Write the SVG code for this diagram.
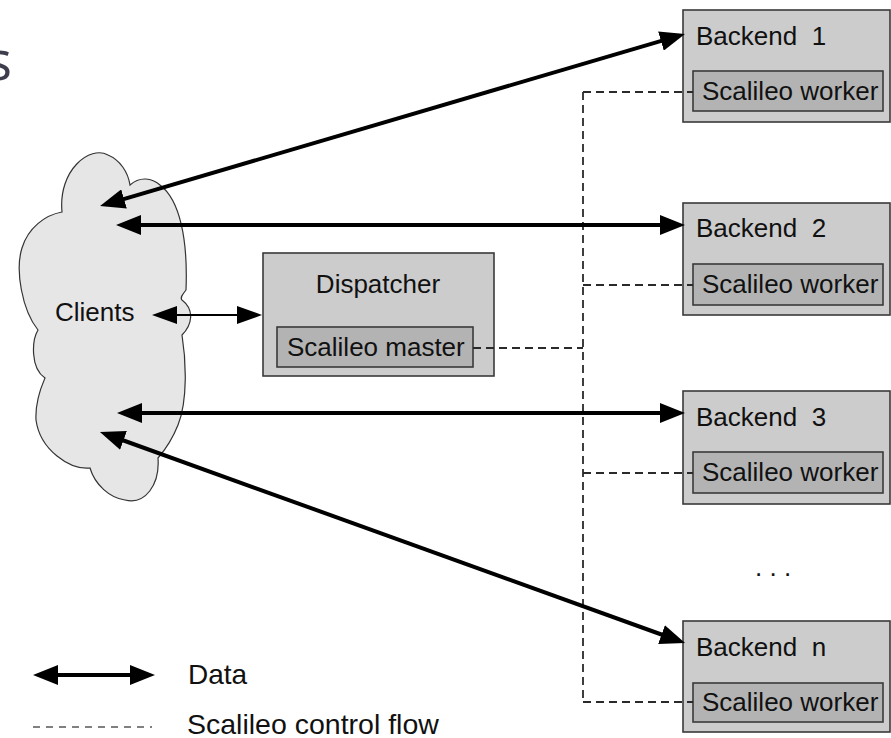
<svg xmlns="http://www.w3.org/2000/svg" width="891" height="738" viewBox="0 0 891 738">
<style>
text{font-family:"Liberation Sans",Arial,sans-serif;font-size:26px;fill:#111;white-space:pre}
.outer{fill:#cccccc;stroke:#3a3a3a;stroke-width:1.6}
.inner{fill:#b3b3b3;stroke:#3a3a3a;stroke-width:1.6}
.thick{stroke:#000;stroke-width:4;fill:none}
.thin{stroke:#000;stroke-width:2;fill:none}
.dash{stroke:#2a2a2a;stroke-width:1.8;stroke-dasharray:8 5;fill:none}
</style>
<defs>
<marker id="ah" viewBox="0 0 25 20" refX="19" refY="10" markerWidth="25" markerHeight="20" markerUnits="userSpaceOnUse" orient="auto-start-reverse"><path d="M0,0 L25,10 L0,20 z" fill="#000"/></marker>
<marker id="ahs" viewBox="0 0 25 18" refX="20" refY="9" markerWidth="25" markerHeight="18" markerUnits="userSpaceOnUse" orient="auto-start-reverse"><path d="M0,0 L25,9 L0,18 z" fill="#000"/></marker>
</defs>
<text x="12" y="80" text-anchor="end" style="font-family:'Open Sans',sans-serif;font-size:54px;fill:#3d3d4d">s</text>
<g id="clients">
<path d="M62,212 C58,170 90,145 108,155 C120,160 128,172 130,185 C140,176 152,178 160,185 C180,200 188,240 186,290 C182,295 180,298 182,300 C195,310 192,325 182,335 C186,360 188,400 178,425 C172,440 165,450 158,458 C160,485 145,505 125,500 C110,498 95,485 90,468 C70,470 40,450 36,420 C35,400 42,385 45,378 C30,368 32,340 38,330 C22,310 15,270 22,248 C28,228 45,215 62,212 Z" fill="#e6e6e6" stroke="#333" stroke-width="1.2"/>
<text x="55" y="321">Clients</text>
</g>
<g id="dispatcher">
<rect class="outer" x="263" y="253" width="231" height="123"/>
<text x="378" y="293" text-anchor="middle">Dispatcher</text>
<rect class="inner" x="277" y="327" width="196" height="40"/>
<text x="287" y="356">Scalileo master</text>
</g>
<g id="backend1">
<rect class="outer" x="683" y="10" width="207" height="112"/>
<text x="696" y="45">Backend  1</text>
<rect class="inner" x="693" y="71" width="190" height="40"/>
<text x="702" y="100">Scalileo worker</text>
</g>
<g id="backend2">
<rect class="outer" x="683" y="203" width="207" height="112"/>
<text x="696" y="237">Backend  2</text>
<rect class="inner" x="693" y="264" width="190" height="41"/>
<text x="702" y="293">Scalileo worker</text>
</g>
<g id="backend3">
<rect class="outer" x="683" y="391" width="207" height="113"/>
<text x="696" y="426">Backend  3</text>
<rect class="inner" x="693" y="452" width="190" height="41"/>
<text x="702" y="481">Scalileo worker</text>
</g>
<g id="dots"><text x="755" y="576">. . .</text></g>
<g id="backendn">
<rect class="outer" x="683" y="621" width="207" height="111"/>
<text x="696" y="656">Backend  n</text>
<rect class="inner" x="693" y="683" width="190" height="39"/>
<text x="702" y="711">Scalileo worker</text>
</g>
<g id="connectors">
<path class="dash" d="M583,92 V702"/>
<path class="dash" d="M583,92 H693 M583,285 H693 M583,473 H693 M583,702 H693 M473,348 H583"/>
<line class="thick" x1="105.8" y1="204.3" x2="679.2" y2="35.7" marker-start="url(#ah)" marker-end="url(#ah)"/>
<line class="thick" x1="122" y1="225" x2="679" y2="225" marker-start="url(#ah)" marker-end="url(#ah)"/>
<line class="thick" x1="123" y1="413" x2="679" y2="413" marker-start="url(#ah)" marker-end="url(#ah)"/>
<line class="thick" x1="105.6" y1="434" x2="679.4" y2="641" marker-start="url(#ah)" marker-end="url(#ah)"/>
<line class="thin" x1="157" y1="315" x2="257" y2="315" marker-start="url(#ahs)" marker-end="url(#ahs)"/>
</g>
<g id="legend">
<line class="thick" x1="39" y1="675" x2="149" y2="675" stroke-width="3.5" marker-start="url(#ah)" marker-end="url(#ah)"/>
<text x="188" y="684" style="font-size:28px">Data</text>
<line x1="33" y1="727" x2="152" y2="727" stroke="#808080" stroke-width="2" stroke-dasharray="7 6"/>
<text x="187" y="734" style="font-size:28.5px">Scalileo control flow</text>
</g>
</svg>
